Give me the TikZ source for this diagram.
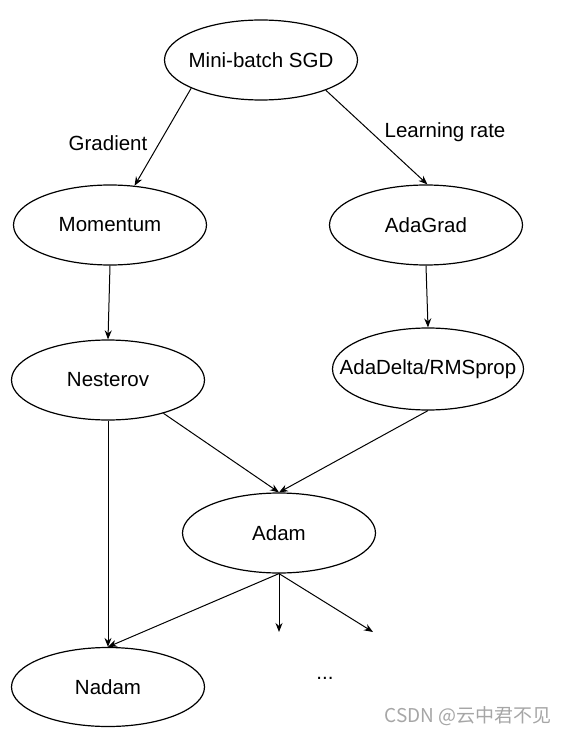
\documentclass[tikz,border=0pt]{standalone}
\usepackage{fontspec}
\setmainfont{Liberation Sans}
\newfontfamily\cjk{Noto Sans CJK SC}
\usetikzlibrary{shapes.geometric,arrows.meta}
\begin{document}
\begin{tikzpicture}[x=1pt,y=-1pt,
  ell/.style={draw,line width=1.2pt,ellipse,minimum width=193pt,minimum height=80pt,inner xsep=-25pt,inner ysep=0pt,font=\fontsize{20.5}{24}\selectfont},
  arr/.style={line width=1pt,-{Stealth[length=9pt,width=7pt]}},
  lbl/.style={font=\fontsize{20.5}{24}\selectfont}]
\useasboundingbox (0,0) rectangle (568,735);
\node[ell] (sgd) at (261,60) {Mini-batch SGD};
\node[ell] (mom) at (110,225) {Momentum};
\node[ell] (ada) at (426,225) {AdaGrad};
\node[ell] (nes) at (108,380) {Nesterov};
\node[ell,minimum width=191pt,minimum height=82pt] (rms) at (428,369) {AdaDelta/RMSprop};
\node[ell] (adam) at (279,533) {Adam};
\node[ell,minimum height=79pt] (nadam) at (108,687) {Nadam};
\node[lbl] (dots) at (325,678) {...};
\node[lbl] (lg) at (108,143) {Gradient};
\node[lbl] (ll) at (445,132) {Learning rate};
\node[font=\cjk\fontsize{19}{22}\selectfont,text=black!35,anchor=east] (wm) at (555,716) {CSDN @云中君不见};
\coordinate (d1) at (279,632);
\coordinate (d2) at (373,632);
\draw[arr] (sgd.202) -- (mom.58);
\draw[arr] (sgd.-25) -- (ada.88);
\draw[arr] (mom.south) -- (nes.north);
\draw[arr] (ada.south) -- (rms.north);
\draw[arr] (nes.-31) -- (adam.north);
\draw[arr] (rms.south) -- (adam.north);
\draw[arr] (nes.south) -- (nadam.north);
\draw[arr] (adam.south) -- (nadam.north);
\draw[arr] (adam.south) -- (d1);
\draw[arr] (adam.south) -- (d2);
\end{tikzpicture}
\end{document}
